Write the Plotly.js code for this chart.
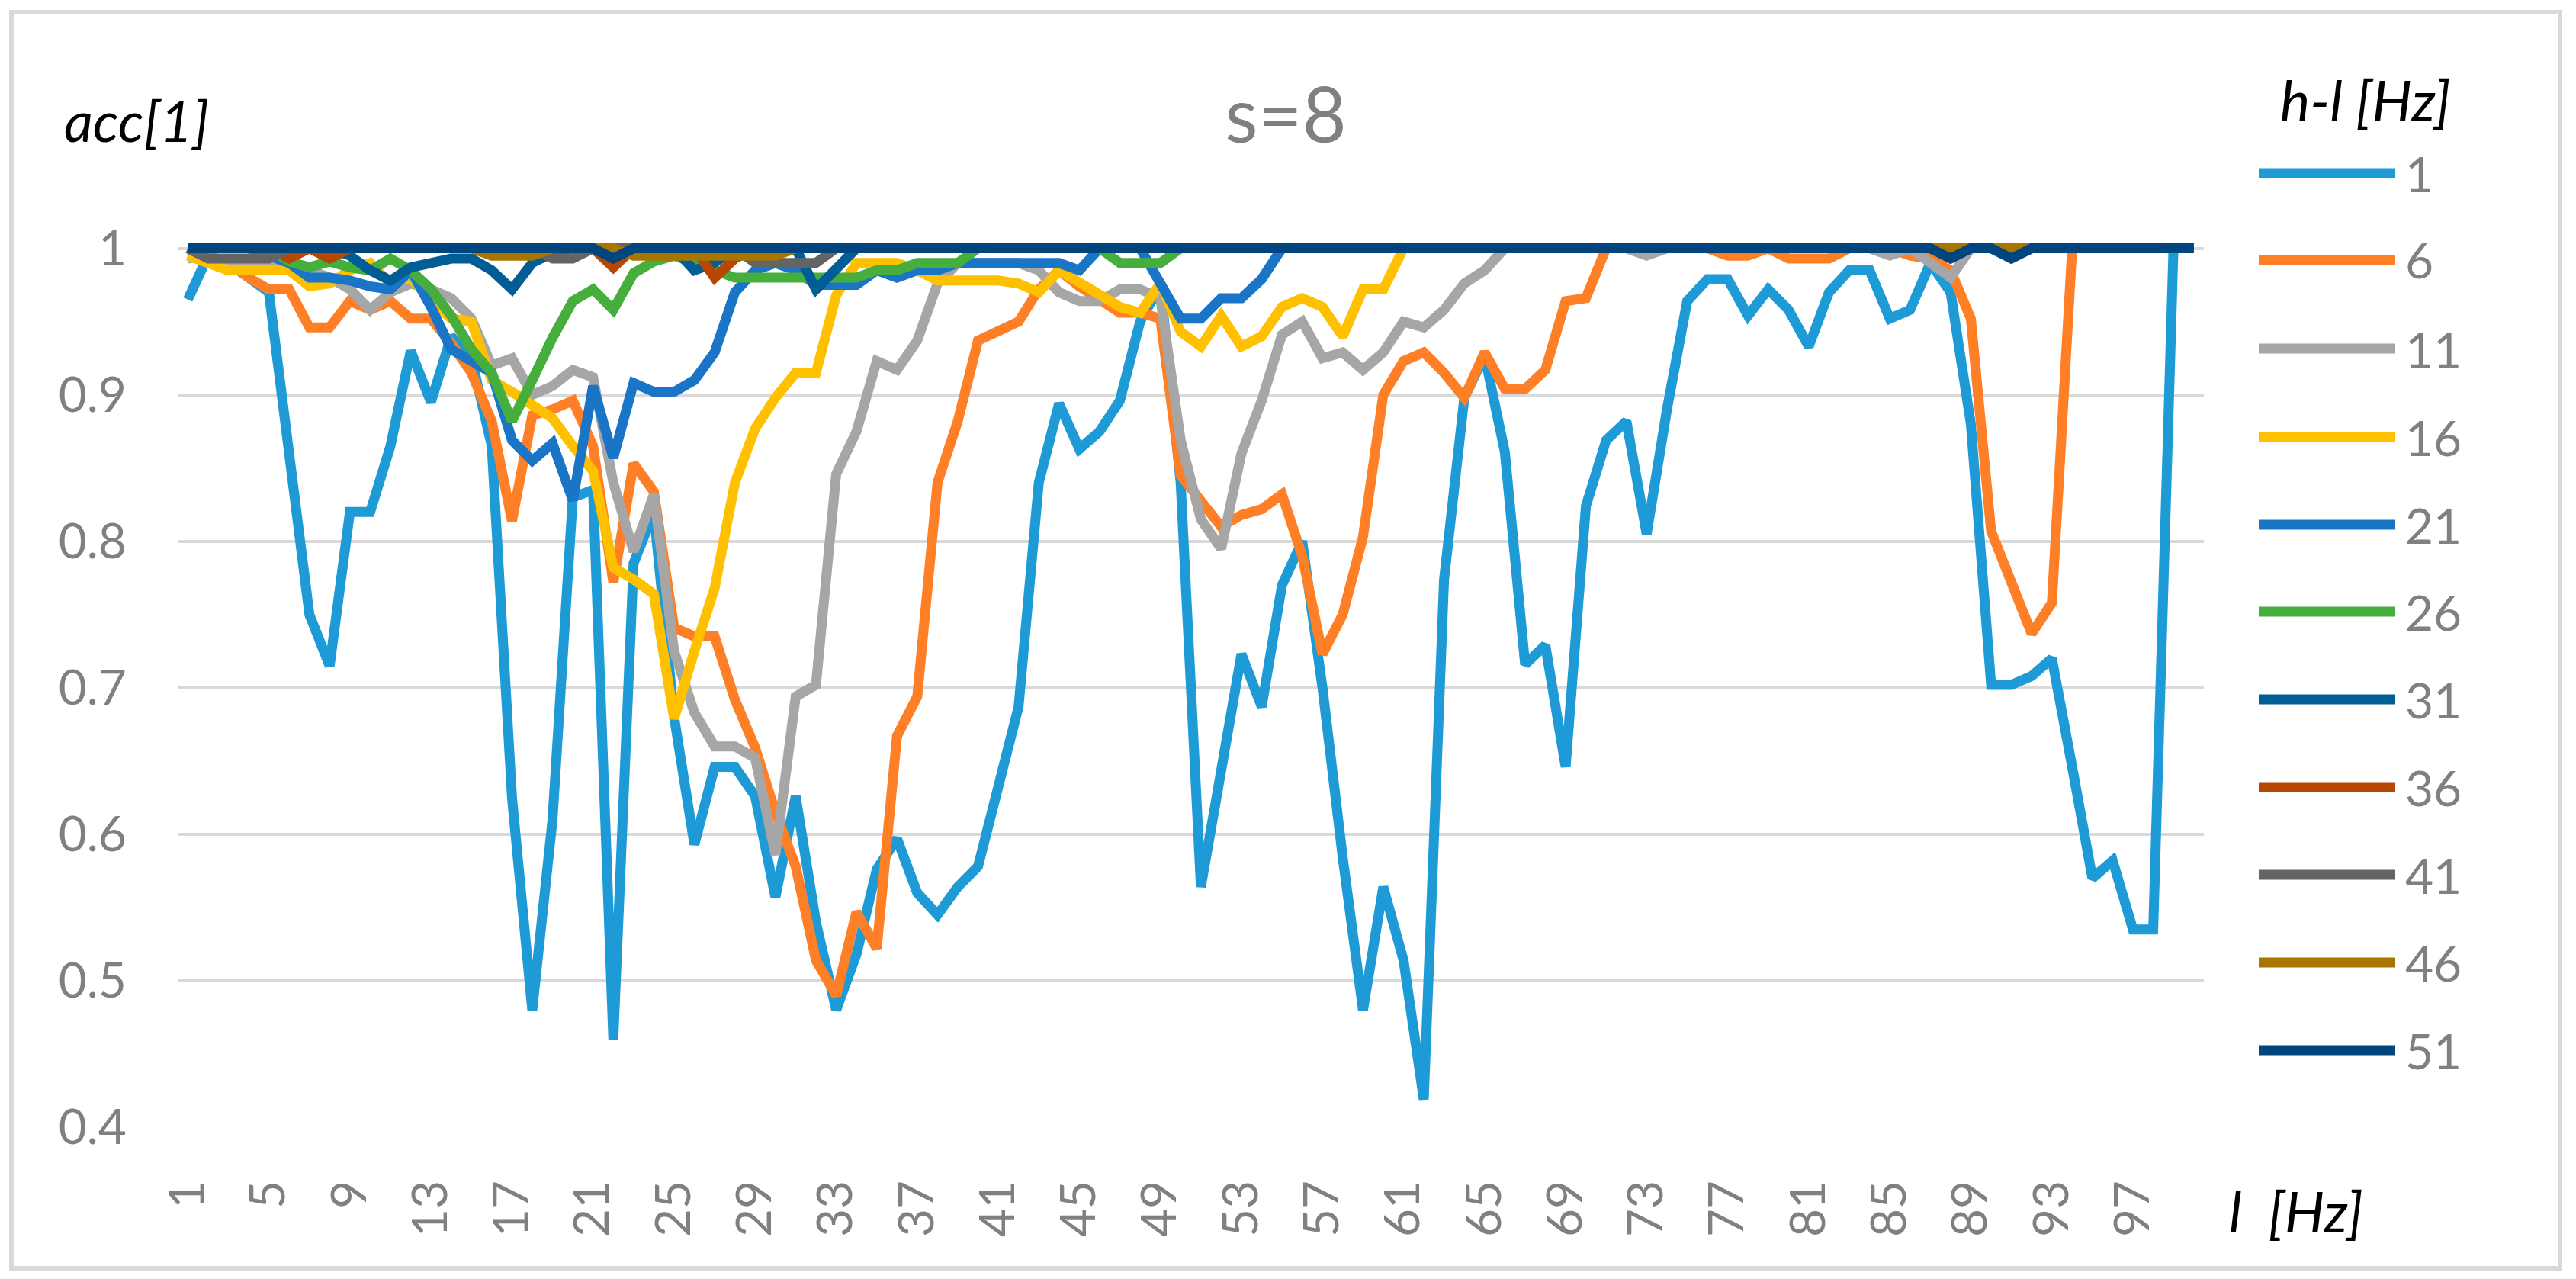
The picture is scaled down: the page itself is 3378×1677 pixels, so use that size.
<!DOCTYPE html>
<html><head><meta charset="utf-8">
<script src="https://cdn.plot.ly/plotly-3.0.1.min.js"></script>
<style>html,body{margin:0;padding:0;background:#fff}#chart{width:3378px;height:1677px}</style>
</head><body><div id="chart"></div>
<script>
// categories: l [Hz]
const lowFreq = [1,2,3,4,5,6,7,8,9,10,11,12,13,14,15,16,17,18,19,20,21,22,23,24,25,26,27,28,29,30,31,32,33,34,35,36,37,38,39,40,41,42,43,44,45,46,47,48,49,50,51,52,53,54,55,56,57,58,59,60,61,62,63,64,65,66,67,68,69,70,71,72,73,74,75,76,77,78,79,80,81,82,83,84,85,86,87,88,89,90,91,92,93,94,95,96,97,98,99,100];

const seriesNames = ['1','6','11','16','21','26','31','36','41','46','51'];
const seriesColors = ['#1e9bd7','#fe7f25','#a6a6a6','#ffc000','#1b75c7','#46ae3c','#015d96','#b54700','#646464','#a67600','#00457d'];

const acc_bw1 = [0.965,0.995,0.99,0.98,0.97,0.86,0.75,0.715,0.82,0.82,
0.865,0.93,0.895,0.94,0.925,0.865,0.625,0.48,0.61,0.83,
0.835,0.46,0.785,0.82,0.68,0.593,0.646,0.646,0.626,0.557,
0.626,0.54,0.48,0.518,0.576,0.597,0.56,0.545,0.564,0.578,
0.634,0.687,0.84,0.894,0.863,0.875,0.896,0.95,0.975,0.84,
0.564,0.643,0.723,0.687,0.77,0.80,0.70,0.584,0.48,0.564,
0.514,0.419,0.774,0.898,0.927,0.861,0.716,0.729,0.646,0.824,
0.869,0.882,0.805,0.89,0.964,0.979,0.979,0.954,0.972,0.958,
0.933,0.97,0.985,0.985,0.952,0.958,0.99,0.97,0.88,0.702,
0.702,0.708,0.72,0.646,0.57,0.582,0.535,0.535,1,1];

const acc_bw6 = [1,0.995,0.99,0.98,0.972,0.972,0.946,0.946,0.964,0.958,
0.964,0.952,0.952,0.935,0.915,0.882,0.814,0.886,0.89,0.896,
0.865,0.772,0.853,0.834,0.741,0.735,0.735,0.692,0.659,0.615,
0.578,0.514,0.49,0.547,0.522,0.667,0.694,0.84,0.882,0.937,
0.943,0.95,0.972,0.985,0.974,0.964,0.956,0.956,0.952,0.845,
0.828,0.81,0.818,0.822,0.832,0.79,0.723,0.75,0.803,0.9,
0.923,0.929,0.915,0.898,0.929,0.904,0.904,0.917,0.964,0.966,
1,1,1,1,1,1,0.995,0.995,1,0.993,
0.993,0.993,1,1,1,0.995,0.993,0.985,0.952,0.807,
0.774,0.737,0.758,1,1,1,1,1,1,1];

const acc_bw11 = [0.993,0.995,0.99,0.99,0.99,0.99,0.985,0.98,0.972,0.958,
0.97,0.976,0.972,0.966,0.952,0.92,0.925,0.9,0.906,0.917,
0.912,0.84,0.793,0.832,0.725,0.683,0.66,0.66,0.652,0.586,
0.694,0.702,0.846,0.875,0.923,0.917,0.937,0.976,0.99,0.99,
0.99,0.99,0.985,0.97,0.964,0.964,0.972,0.972,0.966,0.869,
0.815,0.795,0.86,0.896,0.941,0.95,0.925,0.929,0.917,0.929,
0.95,0.946,0.958,0.976,0.985,1,1,1,1,1,
1,1,0.995,1,1,1,1,1,1,1,
1,1,1,1,0.995,1,0.99,0.98,1,1,
1,1,1,1,1,1,1,1,1,1];

const acc_bw16 = [0.995,0.99,0.985,0.985,0.985,0.985,0.974,0.976,0.985,0.99,
0.976,0.98,0.965,0.952,0.95,0.91,0.902,0.892,0.884,0.865,
0.848,0.782,0.774,0.764,0.679,0.725,0.768,0.84,0.877,0.898,
0.915,0.915,0.968,0.99,0.99,0.99,0.985,0.978,0.978,0.978,
0.978,0.976,0.97,0.985,0.976,0.968,0.96,0.956,0.976,0.943,
0.933,0.954,0.933,0.94,0.96,0.966,0.96,0.94,0.972,0.972,
1,1,1,1,1,1,1,1,1,1,
1,1,1,1,1,1,1,1,1,1,
1,1,1,1,1,1,1,1,1,1,
1,1,1,1,1,1,1,1,1,1];

const acc_bw21 = [1,1,1,1,0.995,0.99,0.98,0.98,0.978,0.974,
0.972,0.985,0.96,0.931,0.923,0.915,0.869,0.855,0.867,0.828,
0.906,0.857,0.908,0.902,0.902,0.91,0.929,0.97,0.985,0.99,
0.985,0.975,0.975,0.975,0.985,0.98,0.985,0.985,0.99,0.99,
0.99,0.99,0.99,0.99,0.985,1,1,1,0.976,0.952,
0.952,0.966,0.966,0.979,1,1,1,1,1,1,
1,1,1,1,1,1,1,1,1,1,
1,1,1,1,1,1,1,1,1,1,
1,1,1,1,1,1,1,1,1,1,
1,1,1,1,1,1,1,1,1,1];

const acc_bw26 = [1,1,1,1,1,0.991,0.987,0.991,0.987,0.985,
0.993,0.985,0.972,0.954,0.931,0.915,0.882,0.91,0.939,0.964,
0.972,0.958,0.983,0.991,0.995,0.99,0.985,0.98,0.98,0.98,
0.98,0.98,0.98,0.98,0.985,0.985,0.99,0.99,0.99,1,
1,1,1,1,1,1,0.99,0.99,0.99,1,
1,1,1,1,1,1,1,1,1,1,
1,1,1,1,1,1,1,1,1,1,
1,1,1,1,1,1,1,1,1,1,
1,1,1,1,1,1,1,1,1,1,
1,1,1,1,1,1,1,1,1,1];

const acc_bw31 = [1,1,1,1,1,1,1,1,0.995,0.985,
0.978,0.987,0.99,0.993,0.993,0.985,0.972,0.99,0.997,1,
1,1,1,1,1,0.985,0.99,1,1,1,
1,0.972,0.985,1,1,1,1,1,1,1,
1,1,1,1,1,1,1,1,1,1,
1,1,1,1,1,1,1,1,1,1,
1,1,1,1,1,1,1,1,1,1,
1,1,1,1,1,1,1,1,1,1,
1,1,1,1,1,1,1,1,1,1,
1,1,1,1,1,1,1,1,1,1];

const acc_bw36 = [1,1,1,1,1,0.993,1,0.993,1,1,
1,1,1,1,1,1,1,1,1,1,
1,0.987,1,1,1,1,0.98,0.993,1,1,
1,1,1,1,1,1,1,1,1,1,
1,1,1,1,1,1,1,1,1,1,
1,1,1,1,1,1,1,1,1,1,
1,1,1,1,1,1,1,1,1,1,
1,1,1,1,1,1,1,1,1,1,
1,1,1,1,1,1,1,0.995,1,1,
1,1,1,1,1,1,1,1,1,1];

const acc_bw41 = [1,0.993,0.993,0.993,0.993,1,1,1,1,1,
1,1,1,1,1,1,1,1,0.993,0.993,
1,1,1,1,1,1,1,1,0.99,0.99,
0.99,0.99,1,1,1,1,1,1,1,1,
1,1,1,1,1,1,1,1,1,1,
1,1,1,1,1,1,1,1,1,1,
1,1,1,1,1,1,1,1,1,1,
1,1,1,1,1,1,1,1,1,1,
1,1,1,1,1,1,1,1,1,1,
1,1,1,1,1,1,1,1,1,1];

const acc_bw46 = [1,1,1,1,1,1,1,1,1,1,
1,1,1,1,1,0.995,0.995,0.995,1,1,
1,1,0.995,0.995,0.995,0.995,0.995,0.995,0.995,0.995,
1,1,1,1,1,1,1,1,1,1,
1,1,1,1,1,1,1,1,1,1,
1,1,1,1,1,1,1,1,1,1,
1,1,1,1,1,1,1,1,1,1,
1,1,1,1,1,1,1,1,1,1,
1,1,1,1,1,1,1,1,1,1,
1,1,1,1,1,1,1,1,1,1];

const acc_bw51 = [1,1,1,1,1,1,1,1,1,1,
1,1,1,1,1,1,1,1,1,1,
1,0.993,1,1,1,1,1,1,1,1,
1,1,1,1,1,1,1,1,1,1,
1,1,1,1,1,1,1,1,1,1,
1,1,1,1,1,1,1,1,1,1,
1,1,1,1,1,1,1,1,1,1,
1,1,1,1,1,1,1,1,1,1,
1,1,1,1,1,1,1,0.993,1,1,
0.993,1,1,1,1,1,1,1,1,1];

const xTickVals = [1,5,9,13,17,21,25,29,33,37,41,45,49,53,57,61,65,69,73,77,81,85,89,93,97];
const xTickText = ['1','5','9','13','17','21','25','29','33','37','41','45','49','53','57','61','65','69','73','77','81','85','89','93','97'];
const yTickVals = [0.4,0.5,0.6,0.7,0.8,0.9,1];
const yTickText = ['0.4','0.5','0.6','0.7','0.8','0.9','1'];

const allSeries = [acc_bw1,acc_bw6,acc_bw11,acc_bw16,acc_bw21,acc_bw26,acc_bw31,acc_bw36,acc_bw41,acc_bw46,acc_bw51];

// ---- layout geometry (pixels) ----
const W = 3378, H = 1677;
const PL = 233, PR = 2890, PT = 316, PB = 1478;
const px = v => (v - PL) / (PR - PL);
const py = v => (PB - v) / (PB - PT);
const FONT = 'Lato, "Open Sans", sans-serif';
const GREY = '#808080';
const LW = 13;

const traces = allSeries.map((ys, i) => ({
  x: lowFreq, y: ys, type: 'scatter', mode: 'lines',
  name: seriesNames[i],
  line: {color: seriesColors[i], width: LW},
  hoverinfo: 'skip', showlegend: false
}));

const legendRowsY = [227,341,457,573,688,802,917,1032,1147,1262,1377];
const shapes = [];
const annotations = [];

// chart-area border
shapes.push({type:'rect', xref:'paper', yref:'paper',
  x0: px(15), x1: px(3357), y0: py(1663), y1: py(16),
  line:{color:'#d9d9d9', width:6}, fillcolor:'rgba(0,0,0,0)', layer:'below'});

seriesNames.forEach((n, i) => {
  shapes.push({type:'line', xref:'paper', yref:'paper',
    x0: px(2962), x1: px(3140), y0: py(legendRowsY[i]), y1: py(legendRowsY[i]),
    line:{color: seriesColors[i], width: LW}});
  annotations.push({xref:'paper', yref:'paper', x: px(3152), y: py(legendRowsY[i]),
    xanchor:'left', yanchor:'middle', showarrow:false, text: n,
    font:{family: FONT, size: 64, color: GREY}});
});

annotations.push({xref:'paper', yref:'paper', x: px(2988), y: py(131),
  xanchor:'left', yanchor:'middle', showarrow:false, text:'h-l [Hz]',
  font:{family: FONT, size: 74, color:'#000', style:'italic'}});
annotations.push({xref:'paper', yref:'paper', x: px(179), y: py(158),
  xanchor:'center', yanchor:'middle', showarrow:false, text:'acc[1]',
  font:{family: FONT, size: 74, color:'#000', style:'italic'}});
annotations.push({xref:'paper', yref:'paper', x: px(3011), y: py(1587),
  xanchor:'center', yanchor:'middle', showarrow:false, text:'l\u00a0\u00a0[Hz]',
  font:{family: FONT, size: 74, color:'#000', style:'italic'}});

const layout = {
  width: W, height: H,
  margin: {l: PL, r: W - PR, t: PT, b: H - PB, pad: 0},
  paper_bgcolor: '#fff', plot_bgcolor: '#fff',
  font: {family: FONT, color: GREY},
  title: {text: 's=8', font: {family: FONT, size: 100, color: GREY},
    xref: 'container', yref: 'container', x: 1686 / W, xanchor: 'center',
    y: 1 - 152 / H, yanchor: 'middle'},
  xaxis: {range: [0.5, 100.5], tickmode: 'array', tickvals: xTickVals, ticktext: xTickText,
    tickangle: -90, tickfont: {family: FONT, size: 64, color: GREY},
    showgrid: false, zeroline: false, showline: false, ticks: '', ticklabelstandoff: 56,
    fixedrange: true},
  yaxis: {range: [0.4, 1.005], tickmode: 'array', tickvals: yTickVals, ticktext: yTickText,
    tickfont: {family: FONT, size: 64, color: GREY},
    showgrid: true, gridcolor: '#d9d9d9', gridwidth: 4, zeroline: false, showline: false,
    ticks: '', ticklabelstandoff: 66, fixedrange: true},
  shapes: shapes,
  annotations: annotations,
  showlegend: false
};

Plotly.newPlot('chart', traces, layout, {displayModeBar: false, staticPlot: true});
</script>
</body></html>
